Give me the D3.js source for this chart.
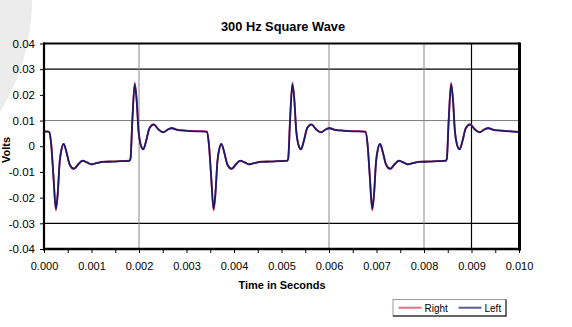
<!DOCTYPE html>
<html><head><meta charset="utf-8">
<script src="https://cdn.jsdelivr.net/npm/d3@7"></script>
<style>
body{margin:0;background:#fff;overflow:hidden}
svg{display:block}
text{font-family:"Liberation Sans",Arial,sans-serif;fill:#000}
</style>
</head><body>
<svg id="c" width="572" height="327"></svg>
<script>
// ---- data ----
const timeMs = [
  0.00,0.08,0.11,0.15,0.20,0.25,0.29,0.33,0.37,0.415,0.47,0.54,0.63,0.73,0.81,0.91,1.00,1.10,1.25,1.45,
  1.65,1.80,1.82,1.86,1.91,1.95,1.99,2.03,2.09,2.15,2.22,2.31,2.41,2.51,2.61,2.69,2.80,3.00,3.20,3.40,
  3.43,3.47,3.52,3.57,3.61,3.65,3.69,3.735,3.79,3.86,3.95,4.05,4.13,4.23,4.32,4.42,4.57,4.77,4.97,5.12,
  5.14,5.18,5.23,5.27,5.31,5.35,5.41,5.47,5.54,5.63,5.73,5.83,5.93,6.01,6.12,6.32,6.52,6.72,
  6.77,6.81,6.86,6.91,6.95,6.99,7.03,7.075,7.13,7.20,7.29,7.39,7.47,7.57,7.66,7.76,7.91,8.11,8.31,8.46,
  8.48,8.52,8.57,8.61,8.65,8.69,8.75,8.81,8.88,8.97,9.07,9.17,9.27,9.35,9.46,9.66,9.86,10.00
];
const leftVolts = [
  0.0057,0.0057,0.0055,0.001,-0.012,-0.0243,-0.018,-0.006,-0.001,0.0009,-0.002,-0.007,-0.0087,-0.0068,-0.0056,-0.0063,-0.0070,-0.0066,-0.0061,-0.0060,
  -0.0058,-0.0057,-0.0050,0.010,0.0241,0.018,0.006,0.001,-0.0012,0.002,0.007,0.0084,0.0065,0.0054,0.0065,0.0070,0.0064,0.0060,0.0058,0.0057,
  0.0056,0.001,-0.012,-0.0243,-0.018,-0.006,-0.001,0.0009,-0.002,-0.007,-0.0087,-0.0068,-0.0056,-0.0063,-0.0070,-0.0066,-0.0061,-0.0060,-0.0058,-0.0057,
  -0.0050,0.010,0.0241,0.018,0.006,0.001,-0.0012,0.002,0.007,0.0084,0.0065,0.0054,0.0065,0.0070,0.0064,0.0060,0.0058,0.0057,
  0.0056,0.001,-0.012,-0.0243,-0.018,-0.006,-0.001,0.0009,-0.002,-0.007,-0.0087,-0.0068,-0.0056,-0.0063,-0.0070,-0.0066,-0.0061,-0.0060,-0.0058,-0.0057,
  -0.0050,0.010,0.0241,0.018,0.006,0.001,-0.0012,0.002,0.007,0.0084,0.0065,0.0054,0.0065,0.0070,0.0064,0.0060,0.0057,0.0055
];
const rightVolts = [
  0.0058,0.0058,0.0056,0.0012,-0.0122,-0.0250,-0.0185,-0.0062,-0.0011,0.0008,-0.0021,-0.0072,-0.0089,-0.0069,-0.0057,-0.0064,-0.0071,-0.0066,-0.0060,-0.0059,
  -0.0057,-0.0056,-0.0049,0.0102,0.0248,0.0183,0.0061,0.0011,-0.0011,0.0021,0.0071,0.0086,0.0066,0.0055,0.0066,0.0071,0.0065,0.0061,0.0059,0.0058,
  0.0057,0.0012,-0.0122,-0.0250,-0.0185,-0.0062,-0.0011,0.0008,-0.0021,-0.0072,-0.0089,-0.0069,-0.0057,-0.0064,-0.0071,-0.0066,-0.0060,-0.0059,-0.0057,-0.0056,
  -0.0049,0.0102,0.0248,0.0183,0.0061,0.0011,-0.0011,0.0021,0.0071,0.0086,0.0066,0.0055,0.0066,0.0071,0.0065,0.0061,0.0059,0.0058,
  0.0057,0.0012,-0.0122,-0.0250,-0.0185,-0.0062,-0.0011,0.0008,-0.0021,-0.0072,-0.0089,-0.0069,-0.0057,-0.0064,-0.0071,-0.0066,-0.0060,-0.0059,-0.0057,-0.0056,
  -0.0049,0.0102,0.0248,0.0183,0.0061,0.0011,-0.0011,0.0021,0.0071,0.0086,0.0066,0.0055,0.0066,0.0071,0.0065,0.0061,0.0058,0.0056
];
const seriesNames = ["Right","Left"];
const xTickValuesMs = [0,1,2,3,4,5,6,7,8,9,10];
const xTickLabels = ["0.000","0.001","0.002","0.003","0.004","0.005","0.006","0.007","0.008","0.009","0.010"];
const xMinorTicksMs = [0.5,1.5,2.5,3.5,4.5,5.5,6.5,7.5,8.5,9.5];
const yTickValues = [0.04,0.03,0.02,0.01,0,-0.01,-0.02,-0.03,-0.04];
const yTickLabels = ["0.04","0.03","0.02","0.01","0","-0.01","-0.02","-0.03","-0.04"];
const hGridBlack = [0.03,-0.03];
const hGridGray = [0.01];
const vGridGrayMs = [2,6,8];
const vGridBlackMs = [9];
const titleText = "300 Hz Square Wave";
const xTitle = "Time in Seconds";
const yTitle = "Volts";

// ---- styles / layout ----
const colors = {Right:"#d9345c", Left:"#1c1a68"};
const L = 44, R = 519, T = 43.5, B = 249;

const svg = d3.select("#c");
// scan artifact shape at top-left
svg.append("circle").attr("cx",-180).attr("cy",0).attr("r",212).attr("fill","#ececec");

const x = d3.scaleLinear().domain([0,10]).range([L,R]);
const y = d3.scaleLinear().domain([-0.04,0.04]).range([B,T]);

// gridlines
const g = svg.append("g");
g.selectAll(".hg").data(hGridGray).join("line").attr("x1",L).attr("x2",R).attr("y1",d=>y(d)).attr("y2",d=>y(d)).attr("stroke","#7a7a7a").attr("stroke-width",1);
g.selectAll(".hb").data(hGridBlack).join("line").attr("x1",L).attr("x2",R).attr("y1",d=>y(d)).attr("y2",d=>y(d)).attr("stroke","#000").attr("stroke-width",1.2);
g.selectAll(".vg").data(vGridGrayMs).join("line").attr("x1",d=>x(d)).attr("x2",d=>x(d)).attr("y1",T).attr("y2",B).attr("stroke","#8a8a8a").attr("stroke-width",1);
g.selectAll(".vb").data(vGridBlackMs).join("line").attr("x1",d=>x(d)).attr("x2",d=>x(d)).attr("y1",T).attr("y2",B).attr("stroke","#000").attr("stroke-width",1.2);

// axes
const yAxis = d3.axisLeft(y).tickValues(yTickValues).tickFormat((d,i)=>yTickLabels[i]).tickSize(4).tickPadding(5).tickSizeOuter(0);
const ya = svg.append("g").attr("transform",`translate(${L},0)`).call(yAxis);
ya.select(".domain").remove();
ya.selectAll("text").attr("font-size","11.5px").attr("font-family",'"Liberation Sans",Arial,sans-serif');
ya.selectAll("line").attr("stroke","#000");

const allX = xTickValuesMs.concat(xMinorTicksMs).sort((a,b)=>a-b);
const xAxis = d3.axisBottom(x).tickValues(allX).tickFormat(d=>{const i=xTickValuesMs.indexOf(d);return i>=0?xTickLabels[i]:"";}).tickSize(4).tickPadding(9).tickSizeOuter(0);
const xa = svg.append("g").attr("transform",`translate(0,${B})`).call(xAxis);
xa.select(".domain").remove();
xa.selectAll("text").attr("font-size","11px").attr("font-family",'"Liberation Sans",Arial,sans-serif');
xa.selectAll("line").attr("stroke","#000");

// lines
const series = [
  {name:seriesNames[0], values:rightVolts},
  {name:seriesNames[1], values:leftVolts}
];
const line = d3.line().x((d,i)=>x(timeMs[i])).y(d=>y(d)).curve(d3.curveMonotoneX);
svg.append("g").selectAll("path").data(series).join("path")
  .attr("d",d=>line(d.values)).attr("fill","none")
  .attr("stroke",d=>colors[d.name]).attr("stroke-width",1.8).attr("stroke-linejoin","round");

// plot frame
const fr = svg.append("g").attr("stroke","#000").attr("fill","none");
fr.append("line").attr("x1",L-1).attr("x2",R+1).attr("y1",T).attr("y2",T).attr("stroke-width",2);
fr.append("line").attr("x1",L).attr("x2",L).attr("y1",T-1).attr("y2",B+1.5).attr("stroke-width",2.2);
fr.append("line").attr("x1",L-1).attr("x2",R+2).attr("y1",B).attr("y2",B).attr("stroke-width",2.6);
fr.append("line").attr("x1",R+0.5).attr("x2",R+0.5).attr("y1",T-1).attr("y2",B+1.5).attr("stroke-width",3);

// titles
svg.append("text").attr("x",283).attr("y",30.5).attr("text-anchor","middle").attr("font-weight","bold").attr("font-size","12.8px").text(titleText);
svg.append("text").attr("x",282).attr("y",288.5).attr("text-anchor","middle").attr("font-weight","bold").attr("font-size","11px").text(xTitle);
svg.append("text").attr("transform","translate(10,150) rotate(-90)").attr("text-anchor","middle").attr("font-weight","bold").attr("font-size","11px").text(yTitle);

// legend
const lg = svg.append("g");
lg.append("rect").attr("x",393).attr("y",299.5).attr("width",113).attr("height",16.5).attr("fill","#fff").attr("stroke","#999").attr("stroke-width",1);
lg.append("line").attr("x1",393).attr("x2",506.5).attr("y1",316).attr("y2",316).attr("stroke","#000").attr("stroke-width",1.2);
lg.append("line").attr("x1",506).attr("x2",506).attr("y1",299.5).attr("y2",316.5).attr("stroke","#333").attr("stroke-width",1.2);
const legendX = [398.5, 458.5];
series.forEach((s,i)=>{
  lg.append("line").attr("x1",legendX[i]).attr("x2",legendX[i]+23).attr("y1",307.7).attr("y2",307.7)
    .attr("stroke",colors[s.name]).attr("stroke-width",2).attr("opacity",0.7);
  lg.append("text").attr("x",legendX[i]+26).attr("y",311.5).attr("font-size","10px").text(s.name);
});
</script>
</body></html>
